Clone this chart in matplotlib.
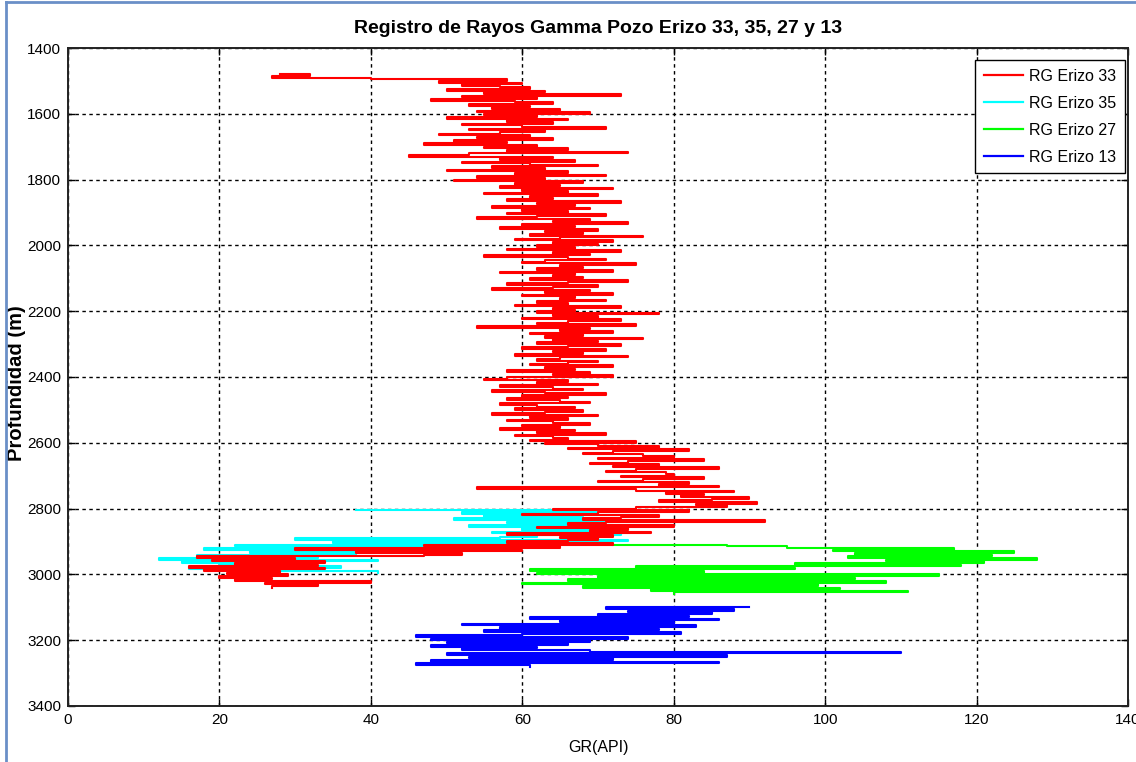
import matplotlib
matplotlib.use("Agg")
import matplotlib.pyplot as plt
import numpy as np

# perfiles de rayos gamma, una muestra cada 5 m
dz = 5

top_33 = 1480
gr_33 = [28, 32, 27, 40,
         58, 49, 60, 52, 57, 61, 50, 63, 55, 73, 52, 62, 48, 59, 64, 53, 61, 56, 65, 54,
         69, 55, 62, 50, 66, 58, 64, 52, 60, 71, 53, 63, 57, 49, 61, 54, 64, 51, 58, 47,
         62, 55, 66, 58, 74, 53, 45, 64, 57, 67, 52, 61, 70, 56, 63, 50, 66, 59, 71, 54,
         63, 51, 68, 59, 65, 57, 72, 60, 66, 55, 70, 61, 64, 58, 73, 62, 67, 56, 69, 60,
         66, 58, 71, 62, 54, 69, 64, 74, 60, 67, 57, 70, 63, 68, 61, 76, 65, 59, 72, 64,
         70, 62, 67, 58, 73, 64, 69, 55, 66, 71, 63, 60, 75, 65, 68, 62, 72, 57, 67, 64,
         68, 61, 74, 66, 58, 70, 64, 56, 69, 63, 72, 60, 67, 65, 71, 62, 66, 59, 73, 64,
         67, 62, 78, 64, 70, 60, 73, 66, 62, 75, 54, 69, 65, 72, 61, 68, 63, 76, 64, 70,
         62, 73, 66, 60, 71, 64, 68, 59, 74, 65, 62, 70, 66, 61, 72, 63, 67, 58, 69, 64,
         72, 58, 55, 66, 62, 70, 57, 64, 68, 56, 63, 71, 60, 66, 58, 65, 69, 57, 62, 67,
         59, 68, 63, 56, 70, 61, 66, 58, 64, 69, 60, 65, 57, 67, 62, 71, 59, 64, 66, 61,
         75, 63, 70, 78, 66, 82, 72, 68, 76, 80, 70, 84, 74, 69, 78, 72, 86, 75, 71, 79,
         80, 73, 84, 76, 70, 82, 78, 86, 54, 75, 88, 79, 84, 81, 90, 85, 78, 91, 83, 87,
         75, 64, 82, 70, 60, 78, 73, 68, 92, 71, 66, 80, 62, 74, 69, 77, 58, 72, 65, 70,
         66, 58, 72, 47, 65, 30, 60, 38, 52, 47, 17, 30, 19, 34, 22, 33, 16, 34, 18, 28,
         21, 29, 20, 27, 22, 40, 26, 33, 27]

top_35 = 2805
gr_35 = [38, 75, 52, 70, 55, 68, 51, 72, 58, 66, 53, 71, 60, 69, 56, 73, 62, 57, 30, 74,
         35, 60, 22, 47, 18, 42, 24, 38, 17, 33, 12, 41, 15, 30, 20, 36, 16, 28, 41]

top_27 = 2910
gr_27 = [72, 87, 95, 117, 101, 125, 104, 122, 103, 128, 108, 121, 96, 118, 75, 96,
         61, 84, 62, 115, 70, 104, 66, 108, 60, 99, 68, 102, 77, 111, 80]

top_13 = 3100
gr_13 = [90, 71, 88, 74, 85, 70, 82, 61, 86, 65, 80, 52, 83, 57, 78, 55, 81, 60, 46,
         74, 48, 69, 50, 66, 48, 62, 52, 69, 110, 50, 87, 53, 72, 48, 86, 46, 61]

pozos = ["RG Erizo 33", "RG Erizo 35", "RG Erizo 27", "RG Erizo 13"]
colores = ["#ff0000", "#00ffff", "#00ff00", "#0000ff"]
series = [(top_33, gr_33), (top_35, gr_35), (top_27, gr_27), (top_13, gr_13)]
capas = [4, 3, 3, 3]

fuente = ["Liberation Sans", "DejaVu Sans"]

fig = plt.figure(figsize=(11.36, 7.62), dpi=100)
ax = fig.add_axes([0.0599, 0.0735, 0.9331, 0.8635])

lineas = []
for (top, gr), nombre, c, z in zip(series, pozos, colores, capas):
    prof = top + dz * np.arange(len(gr))
    # cada lectura se dibuja como un trazo horizontal a su profundidad
    l, = ax.plot(gr, prof, color=c, lw=1.5, label=nombre, zorder=z,
                 drawstyle="steps-post")
    lineas.append(l)

ax.set_xlim(0, 140)
ax.set_ylim(3400, 1400)
ax.set_xticks(np.arange(0, 141, 20))
ax.set_yticks(np.arange(1400, 3401, 200))
ax.grid(True, color="black", linestyle=(0, (2.5, 2.5)), linewidth=1.0)
ax.tick_params(direction="in", top=True, right=True, length=5, width=1,
               labelsize=11, pad=5)
for lab in ax.get_xticklabels() + ax.get_yticklabels():
    lab.set_family(fuente)
for s in ax.spines.values():
    s.set_linewidth(1.4)
    s.set_color("#222222")

ax.set_title("Registro de Rayos Gamma Pozo Erizo 33, 35, 27 y 13",
             family=fuente, fontsize=14, fontweight="bold", pad=11)
ax.set_xlabel("GR(API)", family=fuente, fontsize=11.5)
ax.xaxis.set_label_coords(0.5, -0.052)
ax.set_ylabel("Profundidad (m)", family=fuente, fontsize=14.5,
              fontweight="bold")
ax.yaxis.set_label_coords(-0.040, 0.49)

leg = ax.legend(handles=lineas, loc="upper right", bbox_to_anchor=(0.997, 0.982),
                borderaxespad=0, fancybox=False, edgecolor="black",
                framealpha=1, handlelength=2.4, handletextpad=0.4,
                labelspacing=0.75, borderpad=0.55,
                prop={"family": fuente, "size": 11.5})
leg.get_frame().set_linewidth(1.0)
for l in leg.get_lines():
    l.set_linewidth(1.6)

# marco azul de la ventana
fig.add_artist(plt.Line2D([0.005, 0.005], [0, 0.997], color="#6a8fc7", lw=2))
fig.add_artist(plt.Line2D([0.005, 1], [0.997, 0.997], color="#6a8fc7", lw=2))

plt.savefig("out.png", dpi=100)
